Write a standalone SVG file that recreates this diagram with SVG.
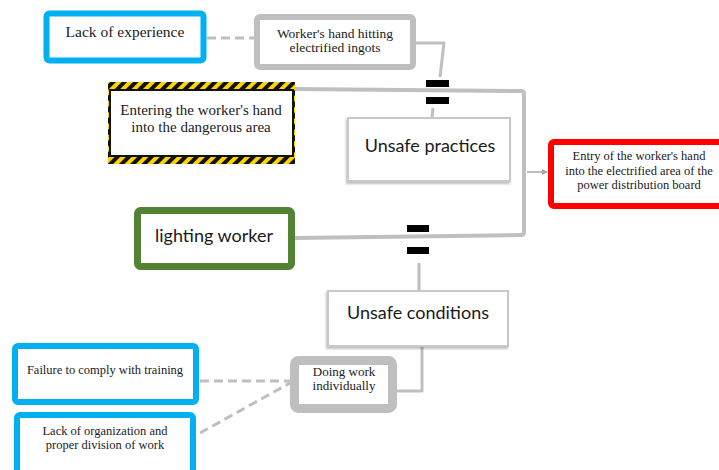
<svg xmlns="http://www.w3.org/2000/svg" width="719" height="470" viewBox="0 0 719 470">
  <style>
    .serif { font-family: 'Liberation Serif', Tinos, 'DejaVu Serif', 'Times New Roman', serif; fill: #1a1a1a; text-anchor: middle; }
    .sans { font-family: Lato, 'Open Sans', 'Noto Sans', sans-serif; fill: #1a1a1a; text-anchor: middle; font-size: 18px; }
    .cause { fill: #ffffff; stroke: #00b0f0; stroke-width: 6; }
    .event { fill: #ffffff; stroke: #bfbfbf; }
    .factor { fill: #ffffff; stroke: #c8c8c8; stroke-width: 2; filter: url(#shadow); }
    .link { fill: none; stroke: #bfbfbf; stroke-width: 3; stroke-linejoin: round; }
    .dash { fill: none; stroke: #bfbfbf; stroke-width: 3; stroke-dasharray: 9 5; }
    .gate { fill: #000000; }
  </style>
  <defs>
    <pattern id="hazard" patternUnits="userSpaceOnUse" width="8" height="8" patternTransform="rotate(45)">
      <rect x="0" y="0" width="8" height="8" fill="#ffd400"/>
      <rect x="0" y="0" width="4" height="8" fill="#111111"/>
    </pattern>
    <filter id="shadow" x="-10%" y="-10%" width="125%" height="130%">
      <feDropShadow dx="-1" dy="2" stdDeviation="1" flood-color="#000000" flood-opacity="0.25"/>
    </filter>
    <marker id="arrow" markerWidth="6" markerHeight="6" refX="5" refY="3" orient="auto" markerUnits="userSpaceOnUse">
      <path d="M0,0 L6,3 L0,6 z" fill="#a6a6a6"/>
    </marker>
  </defs>

  <rect x="0" y="0" width="719" height="470" fill="#ffffff"/>

  <!-- connectors -->
  <g id="connectors">
    <line class="dash" x1="207" y1="38" x2="254" y2="38"/>
    <polyline class="link" points="416,43 444,43 440,77"/>
    <line class="link" x1="433" y1="108" x2="432" y2="118"/>
    <path d="M295,89 L521,91 Q524,91 524,94 L524,232 Q524,235 521,235 L295,238" fill="none" stroke="#bfbfbf" stroke-width="4"/>
    <line x1="527" y1="172" x2="547" y2="172" stroke="#a6a6a6" stroke-width="1.5" marker-end="url(#arrow)"/>
    <line class="link" x1="419" y1="263" x2="419" y2="291"/>
    <polyline class="link" points="422,346 422,391 397,391"/>
    <line class="dash" x1="200" y1="381" x2="290" y2="381"/>
    <line class="dash" x1="200" y1="433" x2="290" y2="383"/>
    <!-- gate marks -->
    <rect class="gate" x="426" y="80" width="23" height="7"/>
    <rect class="gate" x="426" y="97" width="23" height="7"/>
    <rect class="gate" x="407" y="225" width="22" height="7"/>
    <rect class="gate" x="407" y="247" width="22" height="7"/>
  </g>

  <g id="lack-of-experience">
    <rect class="cause" x="46.5" y="13.5" width="157" height="47" rx="3" stroke-width="7"/>
    <text class="serif" font-family="Liberation Serif, serif" x="125" y="37" font-size="15.5">Lack of experience</text>
  </g>

  <g id="hand-hitting-ingots">
    <rect class="event" x="257" y="17" width="156" height="50" rx="3" stroke-width="6"/>
    <text class="serif" x="335" y="38" font-size="13.5">Worker's hand hitting</text>
    <text class="serif" x="335" y="52" font-size="13.5">electrified ingots</text>
  </g>

  <g id="entering-dangerous-area">
    <rect x="108" y="82" width="187" height="82" fill="url(#hazard)"/>
    <rect x="110" y="90" width="183" height="66" fill="#ffffff" stroke="#111111" stroke-width="2"/>
    <text class="serif" x="201" y="115" font-size="15">Entering the worker's hand</text>
    <text class="serif" x="201" y="132" font-size="15">into the dangerous area</text>
  </g>

  <g id="unsafe-practices">
    <rect class="factor" x="348" y="118" width="162" height="63"/>
    <text class="sans" x="430" y="152">Unsafe practices</text>
  </g>

  <g id="hand-entry-board">
    <rect x="551" y="142" width="180" height="64" rx="3" fill="#ffffff" stroke="#ff0000" stroke-width="6"/>
    <text class="serif" x="639" y="160" font-size="12.5">Entry of the worker's hand</text>
    <text class="serif" x="639" y="175" font-size="12.5">into the electrified area of the</text>
    <text class="serif" x="639" y="189" font-size="12.5">power distribution board</text>
  </g>

  <g id="lighting-worker">
    <rect x="137.5" y="210.5" width="154" height="56" rx="3" fill="#ffffff" stroke="#548235" stroke-width="7"/>
    <text class="sans" x="214" y="242">lighting worker</text>
  </g>

  <g id="unsafe-conditions">
    <rect class="factor" x="328" y="291" width="180" height="55"/>
    <text class="sans" x="418" y="319">Unsafe conditions</text>
  </g>

  <g id="working-individually">
    <rect class="event" x="294.5" y="360.5" width="98" height="48" rx="4" stroke-width="9"/>
    <text class="serif" x="344" y="376" font-size="13">Doing work</text>
    <text class="serif" x="344" y="390" font-size="13">individually</text>
  </g>

  <g id="training-noncompliance">
    <rect class="cause" x="15" y="346" width="181" height="56" rx="3"/>
    <text class="serif" x="105" y="374" font-size="12.5">Failure to comply with training</text>
  </g>

  <g id="lack-of-organization">
    <rect class="cause" x="17" y="415" width="176" height="70" rx="3"/>
    <text class="serif" x="105" y="435" font-size="12.5">Lack of organization and</text>
    <text class="serif" x="105" y="449" font-size="12.5">proper division of work</text>
  </g>
</svg>
